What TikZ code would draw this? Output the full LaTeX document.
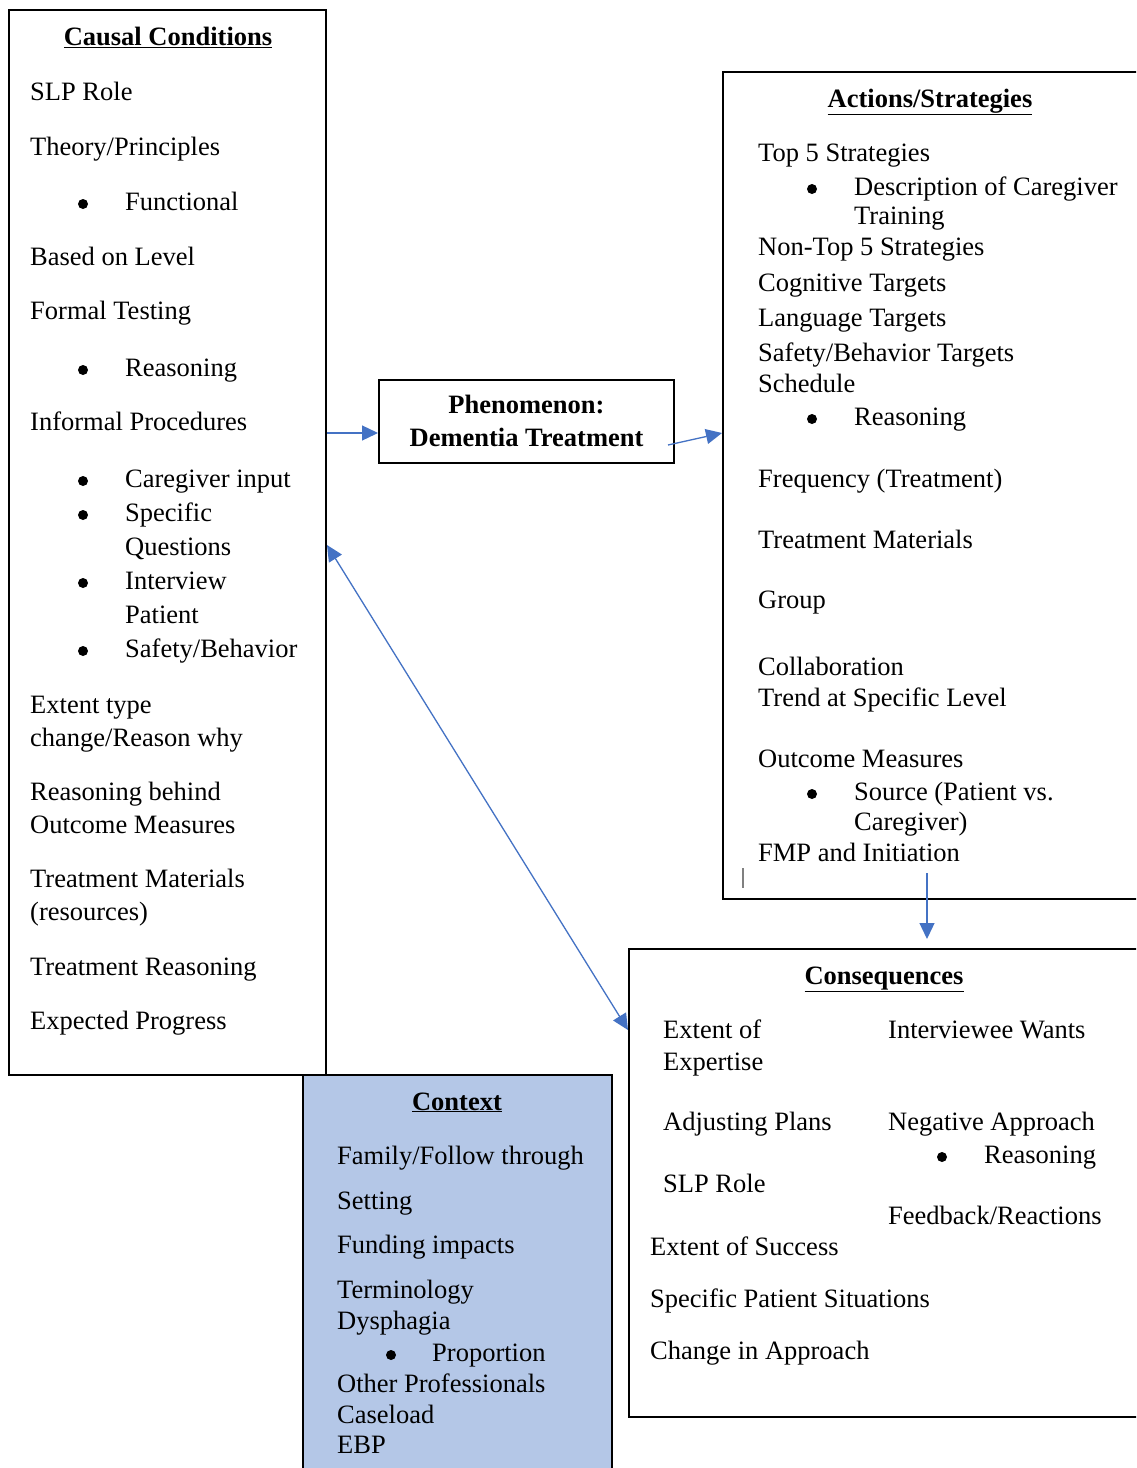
\documentclass[tikz,border=0pt]{standalone}
\usepackage{fontspec}
\setmainfont{Liberation Serif}
\usetikzlibrary{arrows.meta}
\definecolor{arrblue}{HTML}{4472C4}
\definecolor{ctxfill}{HTML}{B4C7E7}
\newcommand\Tx[4]{\node[txt] (#1) at (#2,#3+8) {#4};}
\newcommand\Bu[3]{\node[bul] (#1) at (#2,#3+2) {};}
\newcommand\Ti[4]{\node[ttl] (#1) at (#2,#3+8) {\underline{\textbf{#4}}};}
\begin{document}
\begin{tikzpicture}[x=1pt,y=-1pt,
  txt/.style={anchor=base west,inner sep=0pt,font=\fontsize{26.5}{30}\selectfont},
  ttl/.style={anchor=base,inner sep=0pt,font=\fontsize{26.5}{30}\selectfont},
  bul/.style={circle,fill=black,inner sep=0pt,minimum size=10pt},
  box/.style={draw=black,line width=2pt,inner sep=0pt},
  arr/.style={draw=arrblue,line width=1.3pt,-{Triangle[length=16pt,width=15pt]}},
  darr/.style={draw=arrblue,line width=1.3pt,{Triangle[length=16pt,width=15pt]}-{Triangle[length=16pt,width=15pt]}}]
\clip (0,0) rectangle (1136,1468);
\fill[white] (0,0) rectangle (1136,1468);
% boxes
\node[box,minimum width=317pt,minimum height=1065pt] (causal) at (167.5,542.5) {};
\node[box,fill=ctxfill,minimum width=309pt,minimum height=405pt] (context) at (457.5,1277.5) {};
\node[box,minimum width=295pt,minimum height=83pt,align=center,font=\fontsize{26.5}{33}\selectfont\bfseries] (phen) at (526.5,421) {Phenomenon:\\Dementia Treatment};
\node[box,minimum width=427pt,minimum height=827pt] (actions) at (936.5,485.5) {};
\node[box,minimum width=521pt,minimum height=468pt] (cons) at (889.5,1183) {};
\node[fill=gray,minimum width=1.6pt,minimum height=20pt,inner sep=0pt] (cursor) at (743,878) {};
% causal conditions
\Ti{tc}{168}{37}{Causal Conditions}
\Tx{c1}{30}{92}{SLP Role}
\Tx{c2}{30}{147}{Theory/Principles}
\Bu{c3b}{83}{202}\Tx{c3}{125}{202}{Functional}
\Tx{c4}{30}{257}{Based on Level}
\Tx{c5}{30}{311}{Formal Testing}
\Bu{c6b}{83}{368}\Tx{c6}{125}{368}{Reasoning}
\Tx{c7}{30}{422}{Informal Procedures}
\Bu{c8b}{83}{479}\Tx{c8}{125}{479}{Caregiver input}
\Bu{c9b}{83}{513}\Tx{c9}{125}{513}{Specific}
\Tx{c9a}{125}{547}{Questions}
\Bu{c10b}{83}{581}\Tx{c10}{125}{581}{Interview}
\Tx{c10a}{125}{615}{Patient}
\Bu{c11b}{83}{649}\Tx{c11}{125}{649}{Safety/Behavior}
\Tx{c12}{30}{705}{Extent type}
\Tx{c12a}{30}{738}{change/Reason why}
\Tx{c13}{30}{792}{Reasoning behind}
\Tx{c13a}{30}{825}{Outcome Measures}
\Tx{c14}{30}{879}{Treatment Materials}
\Tx{c14a}{30}{912}{(resources)}
\Tx{c15}{30}{967}{Treatment Reasoning}
\Tx{c16}{30}{1021}{Expected Progress}
% actions
\Ti{ta}{930}{99}{Actions/Strategies}
\Tx{a1}{758}{153}{Top 5 Strategies}
\Bu{a2b}{812}{187}\Tx{a2}{854}{187}{Description of Caregiver}
\Tx{a2a}{854}{216}{Training}
\Tx{a3}{758}{247}{Non-Top 5 Strategies}
\Tx{a4}{758}{283}{Cognitive Targets}
\Tx{a5}{758}{318}{Language Targets}
\Tx{a6}{758}{353}{Safety/Behavior Targets}
\Tx{a7}{758}{384}{Schedule}
\Bu{a8b}{812}{417}\Tx{a8}{854}{417}{Reasoning}
\Tx{a9}{758}{479}{Frequency (Treatment)}
\Tx{a10}{758}{540}{Treatment Materials}
\Tx{a11}{758}{600}{Group}
\Tx{a12}{758}{667}{Collaboration}
\Tx{a13}{758}{698}{Trend at Specific Level}
\Tx{a14}{758}{759}{Outcome Measures}
\Bu{a15b}{812}{792}\Tx{a15}{854}{792}{Source (Patient vs.}
\Tx{a15a}{854}{822}{Caregiver)}
\Tx{a16}{758}{853}{FMP and Initiation}
% consequences
\Ti{tq}{884}{976}{Consequences}
\Tx{q1}{663}{1030}{Extent of}
\Tx{q1a}{663}{1062}{Expertise}
\Tx{q2}{888}{1030}{Interviewee Wants}
\Tx{q3}{663}{1122}{Adjusting Plans}
\Tx{q4}{888}{1122}{Negative Approach}
\Bu{q5b}{942}{1155}\Tx{q5}{984}{1155}{Reasoning}
\Tx{q6}{663}{1184}{SLP Role}
\Tx{q7}{888}{1216}{Feedback/Reactions}
\Tx{q8}{650}{1247}{Extent of Success}
\Tx{q9}{650}{1299}{Specific Patient Situations}
\Tx{q10}{650}{1351}{Change in Approach}
% context
\Ti{tx}{457}{1102}{Context}
\Tx{x1}{337}{1156}{Family/Follow through}
\Tx{x2}{337}{1201}{Setting}
\Tx{x3}{337}{1245}{Funding impacts}
\Tx{x4}{337}{1290}{Terminology}
\Tx{x5}{337}{1321}{Dysphagia}
\Bu{x6b}{391}{1353}\Tx{x6}{432}{1353}{Proportion}
\Tx{x7}{337}{1384}{Other Professionals}
\Tx{x8}{337}{1415}{Caseload}
\Tx{x9}{337}{1445}{EBP}
% connectors
\draw[arr] ([yshift=-12pt]phen.west -| causal.east) -- ([yshift=-12pt]phen.west);
\draw[arr] ([xshift=-7pt,yshift=-24pt]phen.east) -- ([yshift=52.5pt]actions.west);
\draw[darr] ([yshift=-2.5pt]causal.east) -- ([yshift=153pt]cons.west);
\draw[arr] ([xshift=-9.5pt,yshift=27pt]actions.south) -- ([xshift=37.5pt,yshift=9pt]cons.north);
\end{tikzpicture}
\end{document}
